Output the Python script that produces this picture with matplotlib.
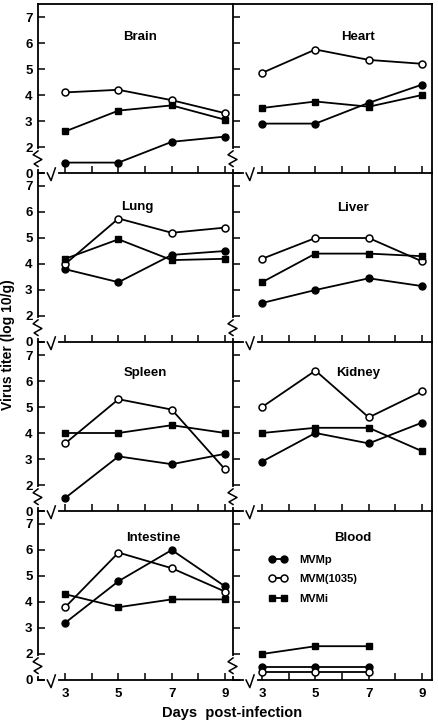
import matplotlib.pyplot as plt
import numpy as np

plt.rcParams['font.family'] = ['Liberation Sans', 'DejaVu Sans']
plt.rcParams['font.weight'] = 'bold'

days = [3, 5, 7, 9]
tissues = ['Brain', 'Heart', 'Lung', 'Liver', 'Spleen', 'Kidney', 'Intestine', 'Blood']

# log10 titers, one row per tissue (same order as tissues)
# values below 2 sit in the broken part of the axis
mvmp = [[1.4, 1.4, 2.2, 2.4],
        [2.9, 2.9, 3.7, 4.4],
        [3.8, 3.3, 4.35, 4.5],
        [2.5, 3.0, 3.45, 3.15],
        [1.5, 3.1, 2.8, 3.2],
        [2.9, 4.0, 3.6, 4.4],
        [3.2, 4.8, 6.0, 4.6],
        [1.5, 1.5, 1.5, None]]
mvm1035 = [[4.1, 4.2, 3.8, 3.3],
           [4.85, 5.75, 5.35, 5.2],
           [4.0, 5.75, 5.2, 5.4],
           [4.2, 5.0, 5.0, 4.1],
           [3.6, 5.3, 4.9, 2.6],
           [5.0, 6.4, 4.6, 5.6],
           [3.8, 5.9, 5.3, 4.4],
           [1.3, 1.3, 1.3, None]]
mvmi = [[2.6, 3.4, 3.6, 3.05],
        [3.5, 3.75, 3.55, 4.0],
        [4.2, 4.95, 4.15, 4.2],
        [3.3, 4.4, 4.4, 4.3],
        [4.0, 4.0, 4.3, 4.0],
        [4.0, 4.2, 4.2, 3.3],
        [4.3, 3.8, 4.1, 4.1],
        [2.0, 2.3, 2.3, None]]

ytick_pos = [1, 2, 3, 4, 5, 6, 7]
ytick_lab = ['0', '2', '3', '4', '5', '6', '7']

# title positions (data coords) for each panel
title_xy = [(5.8, 6.25), (6.6, 6.25), (5.7, 6.2), (6.4, 6.15),
            (6.0, 6.3), (6.6, 6.3), (6.3, 6.45), (6.4, 6.45)]


def clean(vals):
    return np.array([np.nan if v is None else v for v in vals], dtype=float)


fig = plt.figure(figsize=(4.38, 7.2), dpi=100)
W, H = 438.0, 720.0
cols = [(38, 194, (1.98, 9.26)), (233, 199, (1.91, 9.37))]
row_top, row_h = 4, 169

for k, name in enumerate(tissues):
    r, c = divmod(k, 2)
    x0, w, xl = cols[c]
    bottom = 1 - (row_top + row_h * (r + 1)) / H
    ax = fig.add_axes([x0 / W, bottom, w / W, row_h / H])
    ax.patch.set_visible(False)

    ax.plot(days, clean(mvmp[k]), '-o', color='black', lw=1.3, ms=5,
            mfc='black', mec='black', label='MVMp', zorder=3)
    ax.plot(days, clean(mvm1035[k]), '-o', color='black', lw=1.3, ms=5,
            mfc='white', mec='black', mew=1.1, label='MVM(1035)', zorder=3)
    ax.plot(days, clean(mvmi[k]), '-s', color='black', lw=1.3, ms=4.8,
            mfc='black', mec='black', label='MVMi', zorder=3)

    ax.set_xlim(*xl)
    ax.set_ylim(1.0, 7.5)
    ax.set_xticks([3, 4, 5, 6, 7, 8, 9])
    ax.set_yticks(ytick_pos)
    ax.tick_params(direction='in', length=5, width=1.1, top=False, right=False)
    ax.tick_params(axis='x', pad=6, labelsize=9.5)
    ax.tick_params(axis='y', pad=4, labelsize=9.5)
    for s in ax.spines.values():
        s.set_linewidth(1.3)
    # neighbouring panels share their borders
    if c == 0:
        ax.spines['right'].set_visible(False)
    if r > 0:
        ax.spines['top'].set_visible(False)

    if c == 0:
        ax.set_yticklabels(ytick_lab)
    else:
        ax.set_yticklabels([])
    if r == 3:
        ax.set_xticklabels(['3', '', '5', '', '7', '', '9'])
    else:
        ax.set_xticklabels([])

    tx, ty = title_xy[k]
    ax.text(tx, ty, name, ha='center', va='center', fontsize=9.5,
            fontweight='bold')

    # y-axis break on the left spine
    ty_tr = ax.get_yaxis_transform()
    ax.plot([0, 0], [1.25, 1.85], color='white', lw=3, transform=ty_tr,
            clip_on=False, zorder=5)
    ax.plot([0, -0.025, 0.02, -0.02, 0], [1.85, 1.7, 1.52, 1.35, 1.25],
            color='black', lw=1.1, transform=ty_tr, clip_on=False, zorder=6)

    # x-axis break on the bottom spine
    tx_tr = ax.get_xaxis_transform()
    bx = 2.33 if c == 0 else 2.4
    ax.plot([bx, bx + 0.32], [0, 0], color='white', lw=3, transform=tx_tr,
            clip_on=False, zorder=5)
    ax.plot([bx, bx + 0.14, bx + 0.3], [0, -0.045, 0.03], color='black',
            lw=1.1, transform=tx_tr, clip_on=False, zorder=6)

    if name == 'Blood':
        ax.legend(loc='upper left', bbox_to_anchor=(0.18, 0.74), frameon=False,
                  numpoints=2, handlelength=1.7, handletextpad=1.0,
                  labelspacing=0.85, borderpad=0, borderaxespad=0,
                  prop={'size': 8, 'weight': 'bold'})

fig.text(232 / W, 1 - 713 / H, 'Days  post-infection', ha='center',
         va='center', fontsize=10.5, fontweight='bold')
fig.text(8 / W, 1 - 345 / H, 'Virus titer (log 10/g)', ha='center',
         va='center', rotation=90, fontsize=10, fontweight='bold')

fig.savefig('out.png', dpi=100)
